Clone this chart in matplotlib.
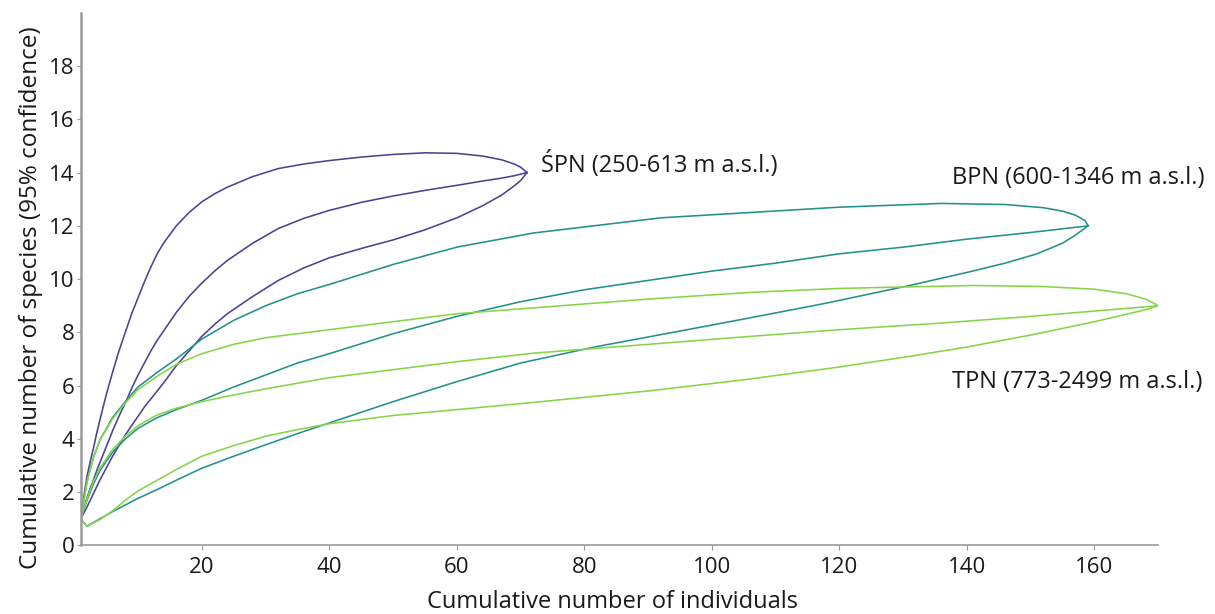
import matplotlib
matplotlib.use("Agg")
import matplotlib.pyplot as plt

plt.rcParams['font.family'] = ['Open Sans', 'DejaVu Sans']

# ---- data ----
spn_x = [1, 1.5, 2, 2.5, 3, 3.5, 4, 5, 6, 7, 8, 9, 10, 11, 12, 13, 14, 16, 18, 20, 22, 24, 28, 32, 36, 40, 45, 50,
         55, 60, 64, 67, 69, 70, 71]
spn_upper = [1.0, 1.85, 2.6, 3.15, 3.65, 4.2, 4.7, 5.65, 6.5, 7.3, 8.0, 8.7, 9.3, 9.9, 10.45, 10.95, 11.35, 12.0,
             12.5, 12.9, 13.2, 13.45, 13.85, 14.15, 14.32, 14.45, 14.58, 14.68, 14.74, 14.72, 14.62, 14.48, 14.32,
             14.2, 14.0]
spn_mean = [1.0, 1.4, 1.8, 2.15, 2.45, 2.8, 3.1, 3.7, 4.3, 4.85, 5.35, 5.9, 6.4, 6.85, 7.3, 7.7, 8.05, 8.75, 9.35,
            9.85, 10.3, 10.7, 11.35, 11.9, 12.28, 12.58, 12.88, 13.12, 13.33, 13.52, 13.68, 13.79, 13.88, 13.94, 14.0]
spn_lower = [1.0, 1.22, 1.45, 1.7, 1.95, 2.2, 2.45, 2.9, 3.35, 3.75, 4.15, 4.5, 4.85, 5.2, 5.5, 5.8, 6.1, 6.75,
             7.3, 7.85, 8.3, 8.7, 9.35, 9.95, 10.42, 10.8, 11.15, 11.47, 11.85, 12.3, 12.75, 13.15, 13.5, 13.7, 14.0]

bpn_upper_x = [1, 2, 3, 4, 6, 8, 10, 13, 16, 20, 25, 30, 35, 40, 50, 60, 72, 92, 106, 120, 136, 146, 152, 155, 157,
               158.5, 159]
bpn_upper = [1.0, 2.4, 3.3, 3.95, 4.8, 5.4, 5.95, 6.5, 7.0, 7.75, 8.45, 9.0, 9.45, 9.8, 10.55, 11.2, 11.73, 12.3,
             12.5, 12.7, 12.84, 12.8, 12.68, 12.55, 12.4, 12.2, 12.0]
bpn_mean_x = [1, 2, 3, 4, 6, 8, 10, 13, 16, 20, 25, 30, 35, 40, 50, 60, 70, 80, 90, 100, 110, 120, 130, 140, 150, 159]
bpn_mean = [1.0, 1.7, 2.3, 2.8, 3.5, 4.0, 4.4, 4.8, 5.1, 5.45, 5.95, 6.4, 6.85, 7.2, 7.95, 8.6, 9.15, 9.6, 9.95,
            10.3, 10.6, 10.95, 11.2, 11.5, 11.75, 12.0]
bpn_lower_x = [1, 2, 4, 6, 8, 10, 13, 16, 20, 25, 30, 35, 40, 50, 60, 70, 82, 95, 105, 118, 131, 140, 146, 151, 155,
               157, 159]
bpn_lower = [1.0, 0.72, 1.0, 1.27, 1.52, 1.77, 2.1, 2.45, 2.9, 3.35, 3.78, 4.2, 4.6, 5.4, 6.15, 6.85, 7.47, 8.05,
             8.5, 9.1, 9.76, 10.25, 10.6, 10.95, 11.35, 11.65, 12.0]

tpn_upper_x = [1, 2, 3, 4, 6, 8, 10, 13, 16, 20, 25, 30, 35, 40, 50, 60, 72, 90, 106, 120, 141, 152, 160, 165, 168, 170]
tpn_upper = [1.0, 2.4, 3.3, 3.95, 4.75, 5.35, 5.85, 6.35, 6.8, 7.2, 7.55, 7.8, 7.95, 8.1, 8.4, 8.7, 8.92, 9.25,
             9.5, 9.65, 9.76, 9.72, 9.62, 9.45, 9.25, 9.0]
tpn_mean_x = [1, 2, 3, 4, 6, 8, 10, 13, 16, 20, 25, 30, 40, 50, 60, 72, 90, 106, 120, 136, 150, 160, 170]
tpn_mean = [1.0, 1.75, 2.4, 2.9, 3.6, 4.1, 4.5, 4.9, 5.15, 5.4, 5.65, 5.88, 6.3, 6.6, 6.9, 7.22, 7.55, 7.85,
            8.1, 8.35, 8.6, 8.8, 9.0]
tpn_lower_x = [1, 2, 4, 6, 8, 10, 13, 16, 20, 25, 30, 35, 40, 50, 60, 72, 90, 105, 120, 131, 140, 150, 160, 165, 168, 170]
tpn_lower = [1.0, 0.72, 0.97, 1.3, 1.7, 2.05, 2.45, 2.85, 3.35, 3.75, 4.1, 4.35, 4.57, 4.88, 5.1, 5.37, 5.8, 6.22,
             6.7, 7.1, 7.45, 7.9, 8.4, 8.68, 8.85, 9.0]

labels = ["ŚPN (250-613 m a.s.l.)", "BPN (600-1346 m a.s.l.)", "TPN (773-2499 m a.s.l.)"]
label_pos = [(73.2, 14.3), (137.6, 13.8), (137.6, 6.15)]
colors = ["#4C4294", "#23918C", "#86D549"]

x_ticks = [20, 40, 60, 80, 100, 120, 140, 160]
y_ticks = [0, 2, 4, 6, 8, 10, 12, 14, 16, 18]

# ---- figure ----
fig = plt.figure(figsize=(12.15, 6.14), dpi=100)
ax = fig.add_axes([0.0664, 0.1116, 0.8869, 0.8677])

lw = 1.15
ax.plot(spn_x, spn_upper, color=colors[0], lw=lw)
ax.plot(spn_x, spn_mean, color=colors[0], lw=lw)
ax.plot(spn_x, spn_lower, color=colors[0], lw=lw)

ax.plot(bpn_upper_x, bpn_upper, color=colors[1], lw=lw)
ax.plot(bpn_mean_x, bpn_mean, color=colors[1], lw=lw)
ax.plot(bpn_lower_x, bpn_lower, color=colors[1], lw=lw)

ax.plot(tpn_upper_x, tpn_upper, color=colors[2], lw=lw)
ax.plot(tpn_mean_x, tpn_mean, color=colors[2], lw=lw)
ax.plot(tpn_lower_x, tpn_lower, color=colors[2], lw=lw)

for lab, (lx, ly) in zip(labels, label_pos):
    ax.text(lx, ly, lab, fontsize=17, color="#1a1a1a", va="center", ha="left", clip_on=False)

ax.set_xlim(1, 170)
ax.set_ylim(0, 20)
ax.set_xticks(x_ticks)
ax.set_yticks(y_ticks)

for s in ["top", "right"]:
    ax.spines[s].set_visible(False)
ax.spines["left"].set_color("#9a9a9a")
ax.spines["left"].set_linewidth(1.8)
ax.spines["bottom"].set_color("#9a9a9a")
ax.spines["bottom"].set_linewidth(1.2)

ax.tick_params(axis="x", length=3.5, width=0.8, color="#9a9a9a", labelsize=16, labelcolor="#1a1a1a", pad=4.5)
ax.tick_params(axis="y", length=3, width=0.8, color="#9a9a9a", labelsize=16, labelcolor="#1a1a1a", pad=1.5)

ax.set_xlabel("Cumulative number of individuals", fontsize=17, color="#1a1a1a")
ax.set_ylabel("Cumulative number of species (95% confidence)", fontsize=17.5, color="#1a1a1a")
ax.xaxis.set_label_coords(0.4935, -0.084)
ax.yaxis.set_label_coords(-0.035, 0.466)

fig.savefig("out.png", dpi=100)
